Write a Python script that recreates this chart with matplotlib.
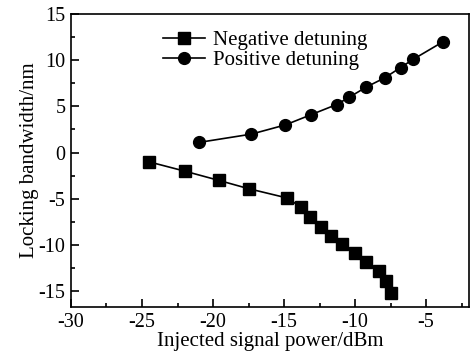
import matplotlib.pyplot as plt
from matplotlib.ticker import MultipleLocator

plt.rcParams['font.family'] = ['Liberation Serif', 'DejaVu Serif']
plt.rcParams['axes.unicode_minus'] = False

# negative detuning (squares)
neg_power = [-24.5, -22.0, -19.6, -17.5, -14.8, -13.8, -13.2, -12.4, -11.7,
             -10.95, -10.0, -9.2, -8.35, -7.85, -7.45]
neg_width = [-1.0, -2.0, -3.0, -3.9, -4.9, -5.9, -7.0, -8.0, -9.0,
             -9.9, -10.9, -11.8, -12.8, -13.9, -15.2]

# positive detuning (circles)
pos_power = [-21.0, -17.3, -14.9, -13.1, -11.3, -10.4, -9.2, -7.9, -6.8, -5.9, -3.8]
pos_width = [1.1, 2.0, 3.0, 4.1, 5.2, 6.0, 7.1, 8.1, 9.2, 10.1, 12.0]

fig = plt.figure(figsize=(4.73, 3.57), dpi=100)
ax = fig.add_axes([0.150, 0.140, 0.841, 0.821])

ax.plot(neg_power, neg_width, '-s', color='black', lw=1.2, ms=8,
        label='Negative detuning')
ax.plot(pos_power, pos_width, '-o', color='black', lw=1.2, ms=8.5,
        label='Positive detuning')

ax.set_xlim(-30, -2)
ax.set_ylim(-16.7, 15)
ax.xaxis.set_major_locator(MultipleLocator(5))
ax.xaxis.set_minor_locator(MultipleLocator(2.5))
ax.yaxis.set_major_locator(MultipleLocator(5))
ax.yaxis.set_minor_locator(MultipleLocator(2.5))
ax.tick_params(which='both', direction='in', top=False, right=False,
               labelsize=14.5, width=1.2)
ax.tick_params(which='major', length=6, pad=4)
ax.tick_params(which='minor', length=3)
for s in ax.spines.values():
    s.set_linewidth(1.2)

ax.set_xlabel('Injected signal power/dBm', fontsize=15, labelpad=0)
ax.set_ylabel('Locking bandwidth/nm', fontsize=15, labelpad=0)

ax.legend(loc='upper left', bbox_to_anchor=(0.2, 0.985), frameon=False,
          fontsize=15, handlelength=2.0, handletextpad=0.4,
          labelspacing=0.0, borderaxespad=0.2)

fig.savefig('out.png', dpi=100)
